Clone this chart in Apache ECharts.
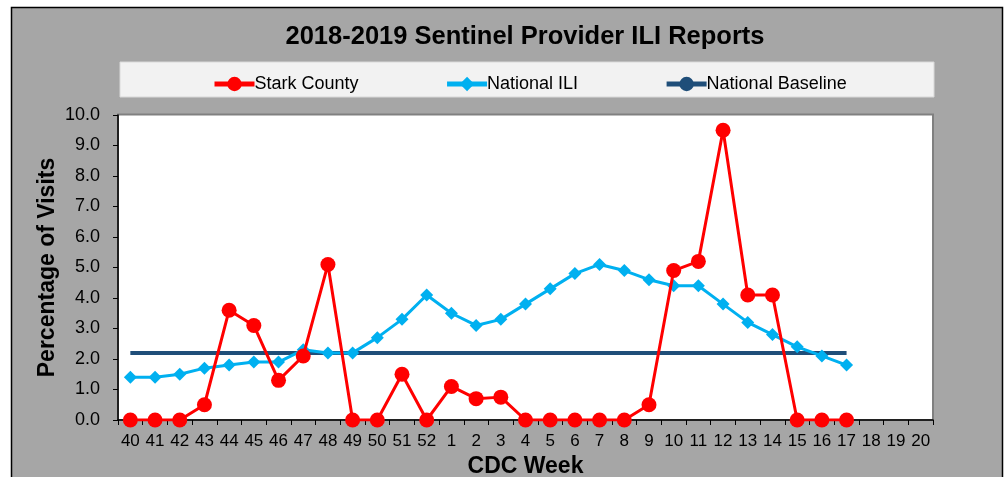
<!DOCTYPE html>
<html>
<head>
<meta charset="utf-8">
<script src="https://cdn.jsdelivr.net/npm/echarts@6/dist/echarts.min.js"></script>
<style>
  html, body { margin: 0; padding: 0; background: #ffffff; }
  #chart { width: 1008px; height: 477px; }
</style>
</head>
<body>
<div id="chart"></div>
<script>
const weeks = ['40','41','42','43','44','45','46','47','48','49','50','51','52',
  '1','2','3','4','5','6','7','8','9','10','11','12','13','14','15','16','17','18','19','20'];
const starkCounty = [0, 0, 0, 0.5, 3.6, 3.1, 1.3, 2.1, 5.1, 0, 0, 1.5, 0,
  1.1, 0.7, 0.75, 0, 0, 0, 0, 0, 0.5, 4.9, 5.2, 9.5, 4.1, 4.1, 0, 0, 0];
const nationalILI = [1.4, 1.4, 1.5, 1.7, 1.8, 1.9, 1.9, 2.3, 2.2, 2.2, 2.7, 3.3, 4.1,
  3.5, 3.1, 3.3, 3.8, 4.3, 4.8, 5.1, 4.9, 4.6, 4.4, 4.4, 3.8, 3.2, 2.8, 2.4, 2.1, 1.8];
const nationalBaseline = [2.2, 2.2, 2.2, 2.2, 2.2, 2.2, 2.2, 2.2, 2.2, 2.2, 2.2, 2.2, 2.2,
  2.2, 2.2, 2.2, 2.2, 2.2, 2.2, 2.2, 2.2, 2.2, 2.2, 2.2, 2.2, 2.2, 2.2, 2.2, 2.2, 2.2];
const titleText = '2018-2019 Sentinel Provider ILI Reports';
const seriesNames = ['Stark County', 'National ILI', 'National Baseline'];

const FONT = '"Liberation Sans", Arial, sans-serif';
const chart = echarts.init(document.getElementById('chart'));
chart.setOption({
  animation: false,
  backgroundColor: '#ffffff',
  graphic: [
    { type: 'rect', z: -10, shape: { x: 11.5, y: 7.5, width: 991, height: 480 },
      style: { fill: '#a6a6a6', stroke: '#000000', lineWidth: 1.5 } },
    { type: 'rect', z: -9, shape: { x: 120, y: 62, width: 814, height: 35 },
      style: { fill: '#f2f2f2', stroke: '#d9d9d9', lineWidth: 1 } },
    { type: 'rect', z: -8, shape: { x: 118, y: 114.5, width: 815, height: 305.5 },
      style: { fill: '#ffffff', stroke: '#808080', lineWidth: 2 } }
  ],
  title: {
    text: titleText,
    left: 520, top: 19, textAlign: 'center',
    textStyle: { fontFamily: FONT, fontSize: 25.5, fontWeight: 'bold', color: '#000' }
  },
  legend: {
    data: seriesNames,
    left: 207, top: 70,
    itemWidth: 40, itemHeight: 18, itemGap: 86,
    lineStyle: { width: 5 },
    textStyle: { fontFamily: FONT, fontSize: 18, color: '#000', padding: [0, 0, 0, -5] }
  },
  grid: { left: 118, right: 75, top: 115, bottom: 57, containLabel: false, outerBoundsMode: 'none' },
  xAxis: {
    type: 'category',
    data: weeks,
    boundaryGap: true,
    name: 'CDC Week',
    nameLocation: 'middle',
    nameMoveOverlap: false,
    nameGap: 35,
    nameTextStyle: { fontFamily: FONT, fontSize: 23, fontWeight: 'bold', color: '#000' },
    axisLine: { lineStyle: { color: '#000', width: 1.5 } },
    axisTick: { show: true, interval: 0, length: 5, lineStyle: { color: '#000' } },
    axisLabel: { interval: 0, fontFamily: FONT, fontSize: 17, color: '#000', margin: 13 },
    splitLine: { show: false }
  },
  yAxis: {
    type: 'value',
    min: 0, max: 10, interval: 1,
    name: 'Percentage of Visits',
    nameLocation: 'middle',
    nameMoveOverlap: false,
    nameGap: 59,
    nameTextStyle: { fontFamily: FONT, fontSize: 23, fontWeight: 'bold', color: '#000' },
    axisLine: { show: true, lineStyle: { color: '#000', width: 1.5 } },
    axisTick: { show: true, length: 5, lineStyle: { color: '#000' } },
    axisLabel: { fontFamily: FONT, fontSize: 18, color: '#000', margin: 18,
      formatter: v => v.toFixed(1) },
    splitLine: { show: false }
  },
  series: [
    {
      name: seriesNames[2], type: 'line', data: nationalBaseline, z: 2,
      symbol: 'none', color: '#1f4e79',
      lineStyle: { color: '#1f4e79', width: 4 }
    },
    {
      name: seriesNames[1], type: 'line', data: nationalILI, z: 3,
      symbol: 'diamond', symbolSize: 13, color: '#00b0f0',
      itemStyle: { color: '#00b0f0' },
      lineStyle: { color: '#00b0f0', width: 3 }
    },
    {
      name: seriesNames[0], type: 'line', data: starkCounty, z: 4,
      symbol: 'circle', symbolSize: 15, color: '#ff0000',
      itemStyle: { color: '#ff0000' },
      lineStyle: { color: '#ff0000', width: 3 }
    }
  ]
});
</script>
</body>
</html>
